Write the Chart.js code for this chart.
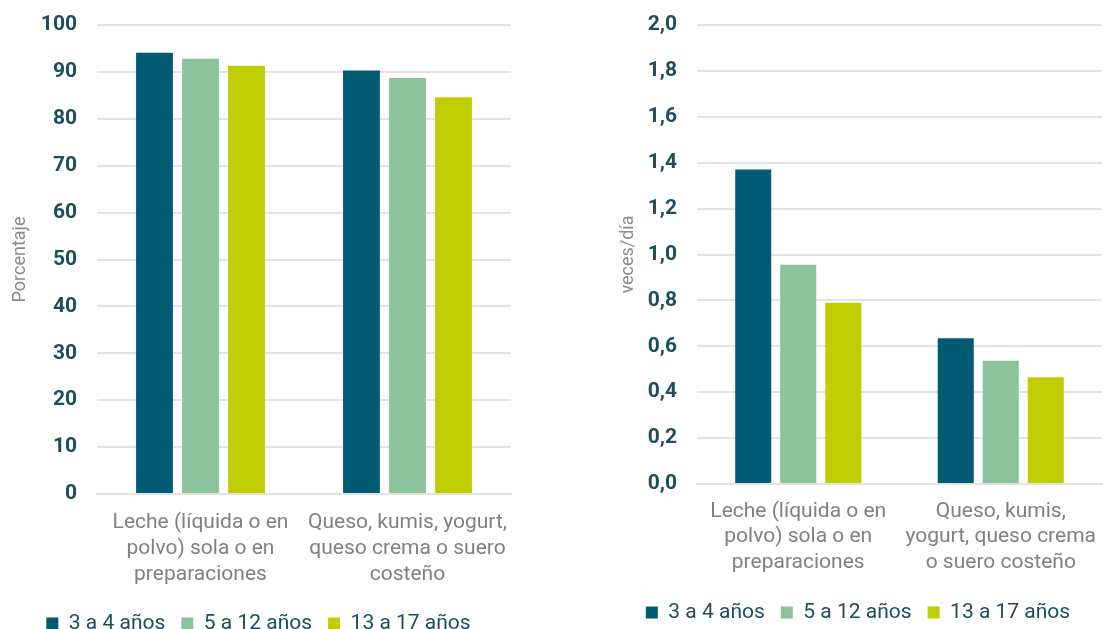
<!DOCTYPE html>
<html>
<head>
<meta charset="utf-8">
<script src="https://cdn.jsdelivr.net/npm/chart.js@4/dist/chart.umd.min.js"></script>
<style>
  body { margin: 0; background: #fff; overflow: hidden; }
  .clip { position: absolute; top: 0; height: 629px; overflow: hidden; }
  .inner { position: relative; }
</style>
</head>
<body>
<div class="clip" style="left:0;width:530px">
  <div class="inner" style="width:530px;height:644px"><canvas id="chartPct"></canvas></div>
</div>
<div class="clip" style="left:600px;width:503px">
  <div class="inner" style="width:503px;height:633px"><canvas id="chartFreq"></canvas></div>
</div>
<script>
const categories = [
    ['Leche (líquida o en', 'polvo) sola o en', 'preparaciones'],
    ['Queso, kumis, yogurt,', 'queso crema o suero', 'costeño']
];
const categoriesRight = [
    ['Leche (líquida o en', 'polvo) sola o en', 'preparaciones'],
    ['Queso, kumis,', 'yogurt, queso crema', 'o suero costeño']
];
const seriesNames = ['3 a 4 años', '5 a 12 años', '13 a 17 años'];
const colors = ['#005b73', '#8cc39a', '#c0cd00'];

const pct3a4 = [94.1, 90.3];
const pct5a12 = [92.8, 88.7];
const pct13a17 = [91.3, 84.6];

const veces3a4 = [1.37, 0.635];
const veces5a12 = [0.955, 0.537];
const veces13a17 = [0.79, 0.465];

Chart.defaults.font.family = 'Roboto';
Chart.defaults.animation = false;

function makeChart(id, labels, values, yMax, yStep, title, fmt, cfg) {
    const ctx = document.getElementById(id).getContext('2d');
    return new Chart(ctx, {
        type: 'bar',
        data: {
            labels: labels,
            datasets: values.map((v, i) => ({
                label: seriesNames[i],
                data: v,
                backgroundColor: colors[i],
                categoryPercentage: 0.667,
                barPercentage: 0.8
            }))
        },
        options: {
            responsive: true,
            maintainAspectRatio: false,
            layout: { padding: { top: 25, right: cfg.padRight, left: cfg.padLeft, bottom: 0 } },
            plugins: {
                legend: {
                    position: 'bottom',
                    labels: {
                        boxWidth: 12,
                        boxHeight: 12,
                        padding: 16,
                        color: '#1d4e5e',
                        font: { size: 21 }
                    }
                },
                tooltip: { enabled: false }
            },
            scales: {
                x: {
                    grid: { display: false, drawTicks: false },
                    border: { color: '#e3e3e3', width: 2 },
                    afterFit: axis => {
                        axis.height = cfg.xHeight;
                        axis.paddingLeft = 0;
                        axis.paddingRight = 0;
                    },
                    ticks: {
                        padding: cfg.xPad,
                        color: '#808080',
                        font: { size: 21, lineHeight: cfg.lineH },
                        maxRotation: 0,
                        autoSkip: false
                    }
                },
                y: {
                    min: 0,
                    max: yMax,
                    border: { display: false },
                    grid: { color: '#e3e3e3', lineWidth: 2, drawTicks: false },
                    afterFit: axis => {
                        axis.width = cfg.yWidth;
                        axis.paddingTop = 0;
                    },
                    title: {
                        display: true,
                        text: title,
                        color: '#8c8c8c',
                        font: { size: 18 }
                    },
                    ticks: {
                        stepSize: yStep,
                        padding: 20,
                        color: '#1d4e5e',
                        font: { size: 21, weight: 'bold' },
                        callback: fmt
                    }
                }
            }
        }
    });
}

makeChart('chartPct', categories, [pct3a4, pct5a12, pct13a17], 100, 10,
    'Porcentaje', v => v,
    { padLeft: 6, padRight: 19, yWidth: 91, xHeight: 103, xPad: 16, lineH: 1.24 });
makeChart('chartFreq', categoriesRight, [veces3a4, veces5a12, veces13a17], 2, 0.2,
    'veces/día', v => v.toFixed(1).replace('.', ','),
    { padLeft: 14, padRight: 1, yWidth: 83, xHeight: 102, xPad: 15, lineH: 1.21 });
</script>
</body>
</html>
